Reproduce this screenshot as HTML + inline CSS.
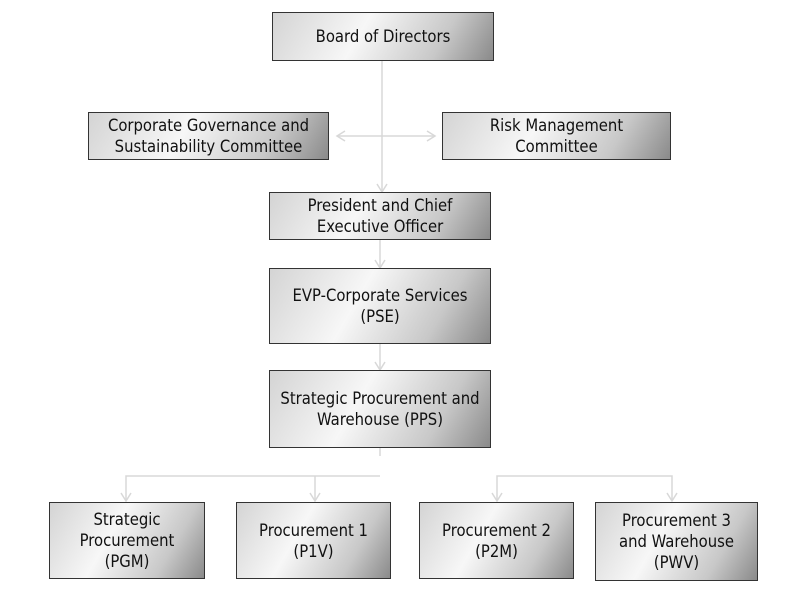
<!DOCTYPE html>
<html><head><style>
body{margin:0;width:800px;height:594px;background:#fff;position:relative;overflow:hidden;font-family:"DejaVu Sans Condensed","Liberation Sans",sans-serif;}
.b{position:absolute;box-sizing:border-box;border:1.5px solid #333;background:linear-gradient(120deg,#d4d4d4 0%,#f7f7f7 40%,#c8c8c8 75%,#8a8a8a 100%);display:flex;align-items:center;justify-content:center;text-align:center;font-size:16.5px;line-height:21px;color:#111;}
svg{position:absolute;left:0;top:0}
</style></head><body>
<svg width="800" height="594" fill="none" stroke="#d8d8d8" stroke-width="1.5">
<line x1="382" y1="61" x2="382" y2="192"/>
<line x1="337" y1="136" x2="435" y2="136"/>
<polyline points="345,131 337,136 345,141"/><polyline points="427,131 435,136 427,141"/>
<polyline points="377,184 382,192 387,184"/>
<line x1="380" y1="240" x2="380" y2="268"/><polyline points="375,260 380,268 385,260"/>
<line x1="380" y1="344" x2="380" y2="370"/><polyline points="375,362 380,370 385,362"/>
<line x1="380" y1="448" x2="380" y2="456"/>
<polyline points="380,476 126,476 126,501"/><line x1="315" y1="476" x2="315" y2="501"/>
<polyline points="121,493 126,501 131,493"/><polyline points="310,493 315,501 320,493"/>
<polyline points="497,501 497,476 672,476 672,501"/>
<polyline points="492,493 497,501 502,493"/><polyline points="667,493 672,501 677,493"/>
</svg>
<div class="b" style="left:272px;top:12px;width:222px;height:49px">Board of Directors</div>
<div class="b" style="left:88px;top:112px;width:241px;height:48px">Corporate Governance and<br>Sustainability Committee</div>
<div class="b" style="left:442px;top:112px;width:229px;height:48px">Risk Management<br>Committee</div>
<div class="b" style="left:269px;top:192px;width:222px;height:48px">President and Chief<br>Executive Officer</div>
<div class="b" style="left:269px;top:268px;width:222px;height:76px">EVP-Corporate Services<br>(PSE)</div>
<div class="b" style="left:269px;top:370px;width:222px;height:78px">Strategic Procurement and<br>Warehouse (PPS)</div>
<div class="b" style="left:49px;top:502px;width:156px;height:77px">Strategic<br>Procurement<br>(PGM)</div>
<div class="b" style="left:236px;top:502px;width:155px;height:77px">Procurement 1<br>(P1V)</div>
<div class="b" style="left:419px;top:502px;width:155px;height:77px">Procurement 2<br>(P2M)</div>
<div class="b" style="left:595px;top:502px;width:163px;height:79px">Procurement 3<br>and Warehouse<br>(PWV)</div>
</body></html>
